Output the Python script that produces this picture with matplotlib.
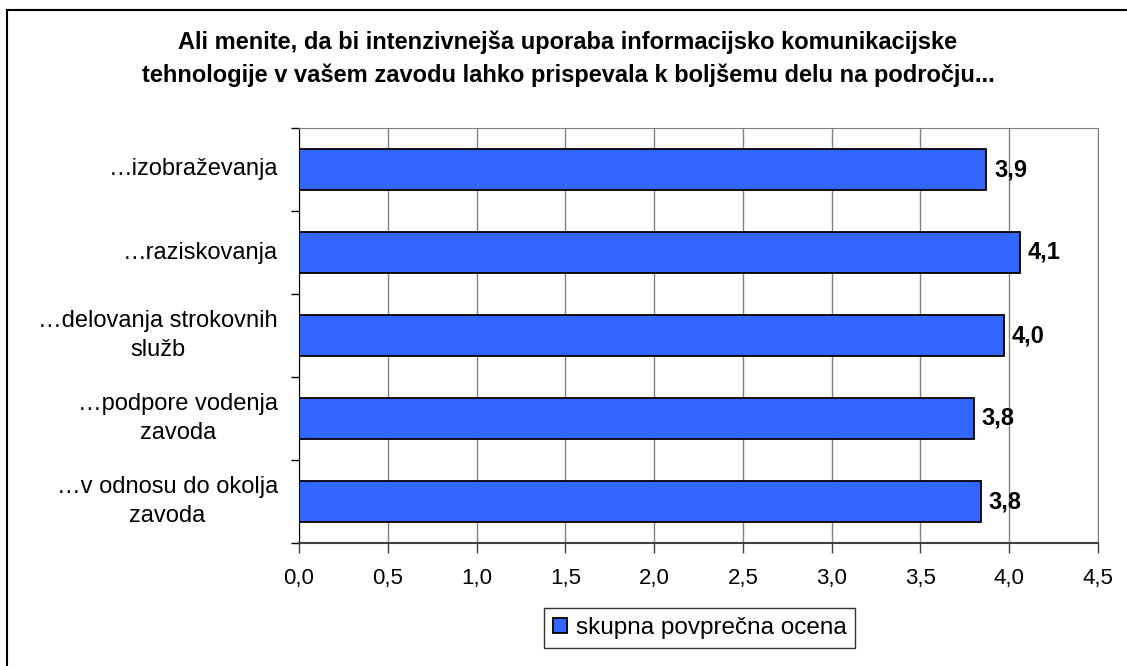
import matplotlib
matplotlib.use("Agg")
import matplotlib.pyplot as plt
from matplotlib.lines import Line2D

plt.rcParams['font.family'] = ['Liberation Sans', 'DejaVu Sans']

# data (top to bottom)
categories = ["…izobraževanja", "…raziskovanja", "…delovanja strokovnih\nslužb",
              "…podpore vodenja\nzavoda", "…v odnosu do okolja\nzavoda"]
values = [3.87, 4.06, 3.97, 3.80, 3.84]
value_labels = ["3,9", "4,1", "4,0", "3,8", "3,8"]
xticks = [0.0, 0.5, 1.0, 1.5, 2.0, 2.5, 3.0, 3.5, 4.0, 4.5]
xtick_labels = ["0,0", "0,5", "1,0", "1,5", "2,0", "2,5", "3,0", "3,5", "4,0", "4,5"]
series_name = "skupna povprečna ocena"
title = ("Ali menite, da bi intenzivnejša uporaba informacijsko komunikacijske\n"
         "tehnologije v vašem zavodu lahko prispevala k boljšemu delu na področju...")

W, H = 1127, 666
fig = plt.figure(figsize=(W / 100, H / 100), dpi=100)
ax = fig.add_axes([299 / W, 1 - 543 / H, 799 / W, 415 / H])

pos = list(range(len(categories)))
ax.barh(pos, values, height=0.5, color="#3366FF", edgecolor="black",
        linewidth=1.3, label=series_name, zorder=3)
ax.set_ylim(len(categories) - 0.5, -0.5)
ax.set_xlim(0, 4.5)

for p, v, lab in zip(pos, values, value_labels):
    ax.text(v + 0.045, p, lab, va="center", ha="left", fontsize=17, fontweight="bold")

ax.set_xticks(xticks)
ax.set_xticklabels(xtick_labels, fontsize=16)
ax.xaxis.grid(True, color="#808080", linewidth=1.0, zorder=0)
ax.tick_params(axis="x", length=7, width=1.0, color="#404040", pad=11)

# category ticks sit on boundaries, labels in between
ax.set_yticks([p + 0.5 for p in pos[:-1]] + [-0.5, len(categories) - 0.5])
ax.set_yticklabels([])
ax.tick_params(axis="y", length=6, width=1.0)
for p, c in zip(pos, categories):
    ax.text(-21 / 799, p, c, transform=ax.get_yaxis_transform(), ha="right", va="center",
            multialignment="center", fontsize=17, linespacing=1.45)

for side in ["top", "right"]:
    ax.spines[side].set_color("#808080")
ax.spines["left"].set_color("black")
ax.spines["bottom"].set_color("#404040")
ax.spines["bottom"].set_linewidth(1.5)

fig.text(0.504, 1 - 58.5 / H, title, ha="center", va="center", fontsize=17,
         fontweight="bold", linespacing=1.5)

leg = fig.legend(loc="center", bbox_to_anchor=(699.5 / W, 1 - 628 / H), fontsize=17.5,
                 frameon=True, fancybox=False, handlelength=0.6, handleheight=0.6,
                 handletextpad=0.35, borderpad=0.35, borderaxespad=0)
leg.get_frame().set_edgecolor("black")
leg.get_frame().set_linewidth(1.0)

# outer chart border: only top and left edges are visible in the crop
fig.add_artist(Line2D([7 / W, 1], [1 - 10 / H, 1 - 10 / H], transform=fig.transFigure,
                      color="black", linewidth=1.5))
fig.add_artist(Line2D([7 / W, 7 / W], [0, 1 - 10 / H], transform=fig.transFigure,
                      color="black", linewidth=1.5))

fig.savefig("out.png", dpi=100)
